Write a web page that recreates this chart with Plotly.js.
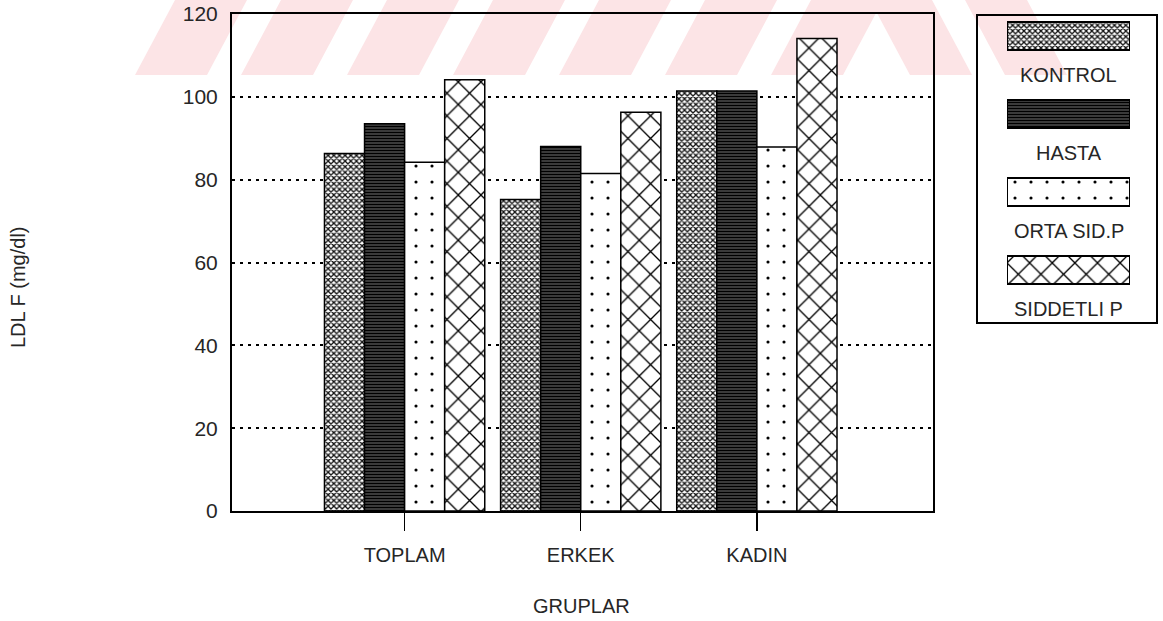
<!DOCTYPE html>
<html>
<head>
<meta charset="utf-8">
<script src="https://cdn.plot.ly/plotly-3.0.1.min.js"></script>
<style>
  html, body { margin: 0; padding: 0; background: #ffffff; }
  #chart { width: 1163px; height: 621px; }
</style>
</head>
<body>
<div id="chart"></div>
<script>
// Groups on the x axis
const groups = ['TOPLAM', 'ERKEK', 'KADIN'];

// Series (LDL F, mg/dl) per group
const seriesNames = ['KONTROL', 'HASTA', 'ORTA SID.P', 'SIDDETLI P'];
const kontrol   = [86.3, 75.2, 101.4];
const hasta     = [93.5, 88.0, 101.4];
const ortaSidP  = [84.2, 81.5, 87.9];
const siddetliP = [104.1, 96.3, 114.1];

// Y axis ticks
const yTicks = [0, 20, 40, 60, 80, 100, 120];

const seriesValues = [kontrol, hasta, ortaSidP, siddetliP];

// Fill pattern for each series
const fills = [
  { shape: 'x', size: 4,  solidity: 0.55, fgcolor: '#111111', bgcolor: '#ffffff' },
  { shape: '-', size: 3,  solidity: 0.65, fgcolor: '#000000', bgcolor: '#6e6e6e' },
  { shape: '.', size: 16, solidity: 0.03, fgcolor: '#000000', bgcolor: '#ffffff' },
  { shape: 'x', size: 16, solidity: 0.16, fgcolor: '#000000', bgcolor: '#ffffff' }
];

const FONT = '"Liberation Sans", Arial, sans-serif';
const INK = '#262626';

// Page geometry helpers (pixel -> paper fraction)
const W = 1163, H = 621;
const M = { l: 232, r: 6, t: 14, b: 110 };
const PW = W - M.l - M.r, PH = H - M.t - M.b;
const px = x => (x - M.l) / PW;
const py = y => (H - M.b - y) / PH;

const traces = seriesNames.map((name, i) => ({
  type: 'bar',
  name: name,
  x: groups,
  y: seriesValues[i],
  xaxis: 'x',
  yaxis: 'y',
  showlegend: false,
  marker: {
    color: fills[i].bgcolor,
    pattern: fills[i],
    line: { color: '#000000', width: 1.5 }
  },
  hoverinfo: 'x+y+name'
}));

// Legend swatches: one bar per series on a hidden axis pair at the right
seriesNames.forEach((name, i) => {
  traces.push({
    type: 'bar',
    orientation: 'h',
    x: [1],
    y: [i],
    base: 0,
    width: 0.36,
    offset: -0.18,
    xaxis: 'x2',
    yaxis: 'y2',
    showlegend: false,
    hoverinfo: 'skip',
    marker: {
      color: fills[i].bgcolor,
      pattern: fills[i],
      line: { color: '#000000', width: 2 }
    }
  });
});

// Legend text below each swatch
const annotations = seriesNames.map((name, i) => ({
  xref: 'x2', yref: 'y2',
  x: 0.5, y: i + 0.5,
  text: name,
  showarrow: false,
  xanchor: 'center', yanchor: 'middle',
  font: { family: FONT, size: 20, color: INK }
}));

annotations.push({
  xref: 'paper', yref: 'paper',
  x: px(581), y: py(606),
  text: 'GRUPLAR',
  showarrow: false,
  xanchor: 'center', yanchor: 'middle',
  font: { family: FONT, size: 20, color: INK }
});

annotations.push({
  xref: 'paper', yref: 'paper',
  x: px(18), y: py(287),
  text: 'LDL F (mg/dl)',
  textangle: -90,
  showarrow: false,
  xanchor: 'center', yanchor: 'middle',
  font: { family: FONT, size: 20, color: INK }
});

// Legend frame and faint pink diagonal band across the top
const shapes = [{
  type: 'rect', xref: 'paper', yref: 'paper',
  x0: px(977), x1: px(1157), y0: py(323), y1: py(15),
  line: { color: '#000000', width: 2 },
  fillcolor: 'rgba(0,0,0,0)',
  layer: 'above'
}];

const pink = '#fce4e6';
for (let k = 0; k < 7; k++) {
  const x0 = 135 + k * 106;
  shapes.push({
    type: 'path', xref: 'paper', yref: 'paper', layer: 'below',
    path: `M ${px(x0)} ${py(75)} L ${px(x0 + 72)} ${py(75)} L ${px(x0 + 112)} ${py(0)} L ${px(x0 + 40)} ${py(0)} Z`,
    fillcolor: pink, line: { width: 0 }
  });
}
for (let k = 0; k < 2; k++) {
  const x0 = 870 + k * 95;
  shapes.push({
    type: 'path', xref: 'paper', yref: 'paper', layer: 'below',
    path: `M ${px(x0)} ${py(0)} L ${px(x0 + 62)} ${py(0)} L ${px(x0 + 102)} ${py(75)} L ${px(x0 + 40)} ${py(75)} Z`,
    fillcolor: pink, line: { width: 0 }
  });
}

const layout = {
  width: W, height: H,
  margin: M,
  paper_bgcolor: '#ffffff',
  plot_bgcolor: 'rgba(0,0,0,0)',
  barmode: 'group',
  bargap: 0.09,
  bargroupgap: 0,
  showlegend: false,
  font: { family: FONT, color: INK },
  xaxis: {
    domain: [0, px(933)],
    type: 'category',
    range: [-0.98, 3.0],
    showline: true, mirror: true, linecolor: '#000000', linewidth: 2,
    ticks: 'outside', ticklen: 18, tickwidth: 1.5, tickcolor: '#000000',
    ticklabelstandoff: 7,
    tickfont: { family: FONT, size: 20, color: INK },
    showgrid: false, zeroline: false,
    fixedrange: true
  },
  yaxis: {
    domain: [0, 1],
    range: [0, 120],
    tickvals: yTicks,
    ticktext: yTicks.map(String),
    showline: true, mirror: true, linecolor: '#000000', linewidth: 2,
    ticks: '', ticklabelstandoff: 8,
    tickfont: { family: FONT, size: 21, color: INK },
    showgrid: true, gridcolor: '#000000', gridwidth: 2, griddash: '3px,5px',
    zeroline: false,
    fixedrange: true
  },
  xaxis2: {
    domain: [px(1007), px(1130)],
    anchor: 'y2',
    range: [0, 1],
    visible: false, fixedrange: true
  },
  yaxis2: {
    domain: [0, 1],
    anchor: 'x2',
    range: [(511 - 36) / 78, (14 - 36) / 78],
    visible: false, fixedrange: true
  },
  annotations: annotations,
  shapes: shapes
};

Plotly.newPlot('chart', traces, layout, { displayModeBar: false, staticPlot: true });
</script>
</body>
</html>
